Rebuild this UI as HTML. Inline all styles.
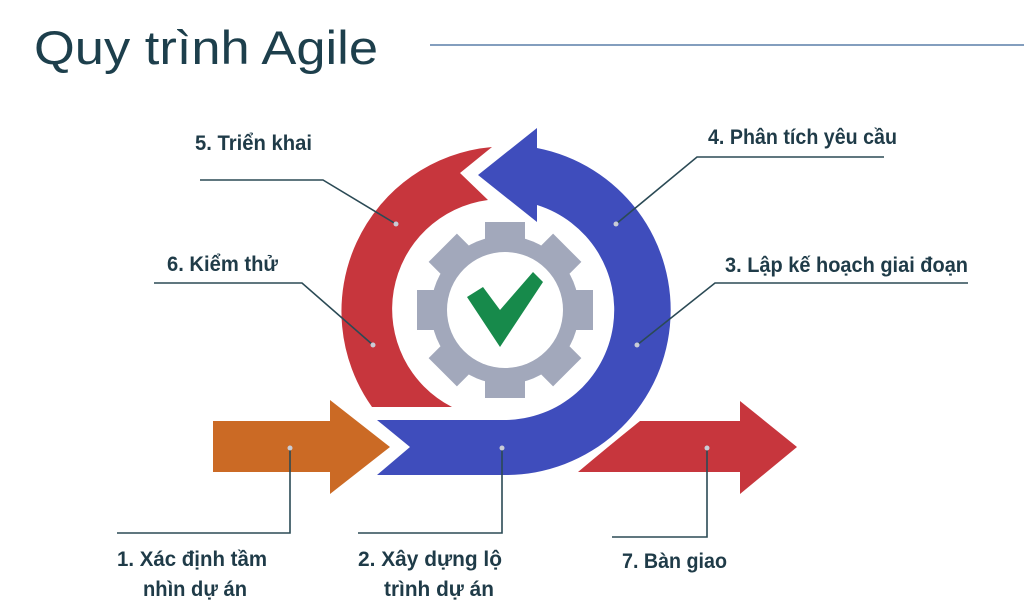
<!DOCTYPE html>
<html><head><meta charset="utf-8"><style>
html,body{margin:0;padding:0;background:#fff;width:1024px;height:615px;overflow:hidden}
svg{display:block}
.l{font-family:"Liberation Sans Narrow","Liberation Sans",sans-serif;font-weight:bold;font-size:21px;fill:#1f3b48}
</style></head><body>
<svg width="1024" height="615" viewBox="0 0 1024 615" xmlns="http://www.w3.org/2000/svg">
<text x="34" y="64" font-family="Liberation Sans, sans-serif" font-size="47" fill="#1d3f4c" textLength="344" lengthAdjust="spacingAndGlyphs">Quy trình Agile</text>
<line x1="430" y1="45" x2="1024" y2="45" stroke="#5a7ea8" stroke-width="1.5"/>

<path d="M372,407 A165,165 0 0 1 492,147 L460,173 L488,200 A110,110 0 0 0 452,407 Z" fill="#c7363d"/>
<path d="M377,420 L505,420 A110,110 0 0 0 537,205 L537,222 L478,175 L537,128 L537,148 A165,165 0 0 1 505,475 L377,475 L410,447 Z" fill="#3f4dbc"/>
<path d="M213,421 L330,421 L330,400 L390,447 L330,494 L330,472 L213,472 Z" fill="#cb6a25"/>
<path d="M640,421 L740,421 L740,401 L797,447 L740,494 L740,472 L578,472 Q610,445 640,421 Z" fill="#c7363d"/>

<g fill="#a2a8bb" transform="translate(505,310)">
<circle r="74"/>
<rect x="-20" y="-88" width="40" height="30"/>
<rect x="-20" y="-88" width="40" height="30" transform="rotate(45)"/>
<rect x="-20" y="-88" width="40" height="30" transform="rotate(90)"/>
<rect x="-20" y="-88" width="40" height="30" transform="rotate(135)"/>
<rect x="-20" y="-88" width="40" height="30" transform="rotate(180)"/>
<rect x="-20" y="-88" width="40" height="30" transform="rotate(225)"/>
<rect x="-20" y="-88" width="40" height="30" transform="rotate(270)"/>
<rect x="-20" y="-88" width="40" height="30" transform="rotate(315)"/>
<circle r="58" fill="#fff"/>
</g>
<polygon points="467,297 500,347 543,282 533,272 500,310 483,287" fill="#178a4b"/>

<g stroke="#2b4a55" stroke-width="1.6" fill="none">
<polyline points="200,180 323,180 396,224"/>
<polyline points="884,157 697,157 616,224"/>
<polyline points="154,283 302,283 373,345"/>
<polyline points="968,283 715,283 637,345"/>
<polyline points="117,533 290,533 290,448"/>
<polyline points="358,533 502,533 502,448"/>
<polyline points="612,537 707,537 707,448"/>
</g>
<g fill="#c9ccd6">
<circle cx="396" cy="224" r="2.5"/><circle cx="616" cy="224" r="2.5"/>
<circle cx="373" cy="345" r="2.5"/><circle cx="637" cy="345" r="2.5"/>
<circle cx="290" cy="448" r="2.5"/><circle cx="502" cy="448" r="2.5"/><circle cx="707" cy="448" r="2.5"/>
</g>

<text class="l" x="195" y="150" textLength="117" lengthAdjust="spacingAndGlyphs">5. Triển khai</text>
<text class="l" x="708" y="144" textLength="189" lengthAdjust="spacingAndGlyphs">4. Phân tích yêu cầu</text>
<text class="l" x="167" y="271" textLength="111" lengthAdjust="spacingAndGlyphs">6. Kiểm thử</text>
<text class="l" x="725" y="272" textLength="243" lengthAdjust="spacingAndGlyphs">3. Lập kế hoạch giai đoạn</text>
<text class="l" x="117" y="566" textLength="150" lengthAdjust="spacingAndGlyphs">1. Xác định tầm</text>
<text class="l" x="143" y="596" textLength="104" lengthAdjust="spacingAndGlyphs">nhìn dự án</text>
<text class="l" x="358" y="566" textLength="144" lengthAdjust="spacingAndGlyphs">2. Xây dựng lộ</text>
<text class="l" x="384" y="596" textLength="110" lengthAdjust="spacingAndGlyphs">trình dự án</text>
<text class="l" x="622" y="568" textLength="105" lengthAdjust="spacingAndGlyphs">7. Bàn giao</text>
</svg>
</body></html>
